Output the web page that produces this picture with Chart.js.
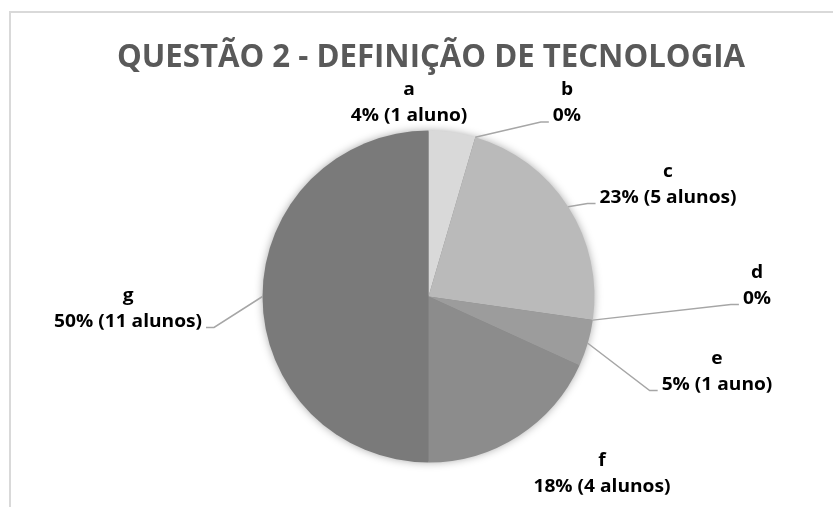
<!DOCTYPE html>
<html>
<head>
<meta charset="utf-8">
<script src="https://cdn.jsdelivr.net/npm/chart.js@4"></script>
<style>
  body { margin: 0; background: #fff; }
  #wrap { position: relative; width: 833px; height: 507px; overflow: hidden; }
  #myChart { position: absolute; left: 0; top: 0; }
  .frame {
    position: absolute; left: 9px; top: 11px; right: -4px; bottom: -4px;
    border-left: 2px solid #d9d9d9; border-top: 2px solid #d9d9d9;
    pointer-events: none;
  }
</style>
</head>
<body>
<div id="wrap">
  <canvas id="myChart" width="833" height="507"></canvas>
  <div class="frame"></div>
</div>
<script>
'use strict';

// dados
var titulo = 'QUESTÃO 2 - DEFINIÇÃO DE TECNOLOGIA';
var categorias = ['a', 'b', 'c', 'd', 'e', 'f', 'g'];
var alunos = [1, 0, 5, 0, 1, 4, 11];
var percentuais = ['4%', '0%', '23%', '0%', '5%', '18%', '50%'];
var contagens = ['(1 aluno)', '', '(5 alunos)', '', '(1 auno)', '(4 alunos)', '(11 alunos)'];

// estilos
var cores = ['#d9d9d9', '#cacaca', '#bababa', '#a8a8a8', '#9c9c9c', '#8c8c8c', '#7a7a7a'];
// posicao do centro do rotulo, em raios a partir do centro da pizza
var posRotulos = [[-0.117, -1.166], [0.834, -1.166], [1.443, -0.675], [1.979, -0.066],
                  [1.738, 0.452], [1.045, 1.066], [-1.810, 0.072]];
var comLinha = [false, true, true, true, true, false, true];

var fonteRotulo = 'bold 18px "Open Sans", sans-serif';
var alturaLinha = 26;

// sombra atras da pizza
var sombra = {
  id: 'sombra',
  beforeDatasetsDraw: function (chart) {
    var arc = chart.getDatasetMeta(0).data[0];
    var c = chart.ctx;
    c.save();
    c.shadowColor = 'rgba(0,0,0,0.4)';
    c.shadowBlur = 10;
    c.fillStyle = '#888';
    c.beginPath();
    c.arc(arc.x, arc.y, arc.outerRadius - 1, 0, Math.PI * 2);
    c.fill();
    c.restore();
  }
};

// titulo e rotulos com linhas de chamada
var rotulos = {
  id: 'rotulos',
  afterDraw: function (chart) {
    var c = chart.ctx;
    var meta = chart.getDatasetMeta(0);
    var cx = meta.data[0].x, cy = meta.data[0].y, r = meta.data[0].outerRadius;

    // titulo
    c.save();
    c.font = 'bold 33px "Open Sans", sans-serif';
    c.fillStyle = '#595959';
    c.textBaseline = 'alphabetic';
    c.textAlign = 'center';
    var wt = c.measureText(titulo).width;
    c.translate(431, 67);
    c.scale(628 / wt, 1);
    c.fillText(titulo, 0, 0);
    c.restore();

    c.save();
    c.font = fonteRotulo;
    var k = 137 / c.measureText('23% (5 alunos)').width;

    meta.data.forEach(function (arc, i) {
      var l1 = categorias[i];
      var l2 = percentuais[i] + (contagens[i] ? ' ' + contagens[i] : '');
      var lx = cx + posRotulos[i][0] * r;
      var ly = cy + posRotulos[i][1] * r;
      var y1 = ly - alturaLinha / 2, y2 = ly + alturaLinha / 2;

      if (comLinha[i]) {
        var meio = (arc.startAngle + arc.endAngle) / 2;
        var sx = cx + Math.cos(meio) * r, sy = cy + Math.sin(meio) * r;
        var w = Math.max(c.measureText(l1).width, c.measureText(l2).width) * k;
        var lado = lx > sx ? 1 : -1;
        var ex = lx - lado * (w / 2 + 4), ey = y2 + 6;
        c.strokeStyle = '#a6a6a6';
        c.lineWidth = 1.5;
        c.beginPath();
        c.moveTo(sx, sy);
        c.lineTo(ex - lado * 8, ey);
        c.lineTo(ex, ey);
        c.stroke();
      }

      c.fillStyle = '#000';
      c.textAlign = 'center';
      c.textBaseline = 'middle';
      [[l1, y1], [l2, y2]].forEach(function (t) {
        c.save();
        c.translate(lx, t[1]);
        c.scale(k, 1);
        c.fillText(t[0], 0, 0);
        c.restore();
      });
    });
    c.restore();
  }
};

var ctx = document.getElementById('myChart').getContext('2d');
var chart = new Chart(ctx, {
  type: 'pie',
  data: {
    labels: categorias,
    datasets: [{
      data: alunos,
      backgroundColor: cores,
      borderWidth: 0
    }]
  },
  options: {
    responsive: false,
    devicePixelRatio: 1,
    animation: false,
    layout: { padding: { top: 130.5, bottom: 44.5, left: 262.5, right: 238.5 } },
    plugins: {
      legend: { display: false },
      tooltip: { enabled: false },
      title: { display: false }
    }
  },
  plugins: [sombra, rotulos]
});
</script>
</body>
</html>
